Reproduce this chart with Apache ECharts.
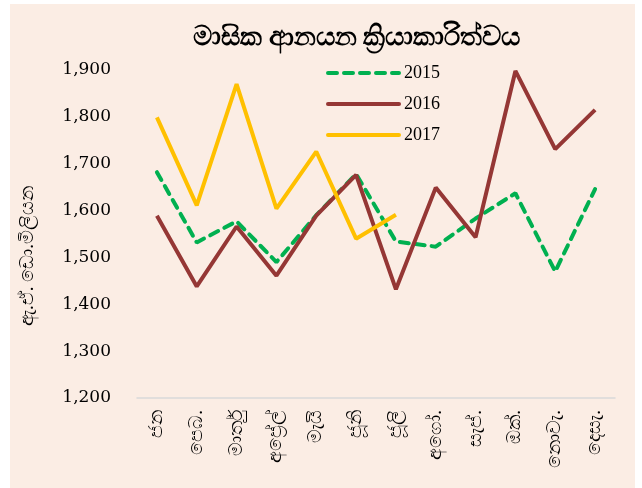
<!DOCTYPE html>
<html>
<head>
<meta charset="utf-8">
<script src="https://cdn.jsdelivr.net/npm/echarts@6/dist/echarts.min.js"></script>
<style>
html, body { margin: 0; padding: 0; background: #fff; }
#bg { position: absolute; left: 10px; top: 4px; width: 625px; height: 484px; background: #FBEDE4; }
#chart { position: absolute; left: 0; top: 0; width: 642px; height: 488px; }
</style>
</head>
<body>
<div id="bg"></div>
<div id="chart"></div>
<script>
// මාස
var months = ['ජන', 'පෙබ.', 'මාර්තු', 'අප්‍රේල්', 'මැයි', 'ජූනි', 'ජූලි', 'අගෝ.', 'සැප්.', 'ඔක්.', 'නොවැ.', 'දෙසැ.'];
var years = ['2015', '2016', '2017'];
var v2015 = [1682, 1532, 1577, 1490, 1590, 1678, 1534, 1523, 1583, 1637, 1470, 1646];
var v2016 = [1589, 1438, 1566, 1461, 1589, 1676, 1432, 1649, 1543, 1898, 1731, 1815];
var v2017 = [1799, 1611, 1870, 1604, 1726, 1540, 1591];

var myChart = echarts.init(document.getElementById('chart'));
var serif = '"Liberation Serif", "DejaVu Serif", serif';

var option = {
	backgroundColor: 'transparent',
	animation: false,
	title: {
		text: 'මාසික ආනයන ක්‍රියාකාරිත්වය',
		left: 188,
		top: 20,
		textStyle: { fontSize: 26.5, fontWeight: 'bold', color: '#000', fontFamily: serif }
	},
	legend: {
		data: years,
		orient: 'vertical',
		left: 321,
		top: 59,
		itemWidth: 71,
		itemHeight: 14,
		itemGap: 13,
		itemStyle: { opacity: 0 },
		lineStyle: { width: 4, cap: 'round' },
		textStyle: { fontSize: 18, color: '#000', fontFamily: serif }
	},
	grid: { left: 137, right: 27, top: 70, bottom: 90 },
	xAxis: {
		type: 'category',
		data: months,
		axisLine: { lineStyle: { color: '#D9D9D9', width: 1.5 } },
		axisTick: { show: false },
		axisLabel: { rotate: 90, fontSize: 19, color: '#000', margin: 12, fontFamily: serif }
	},
	yAxis: {
		type: 'value',
		min: 1200,
		max: 1900,
		interval: 100,
		name: 'ඇ.ඒ. ඩො.මිලියන',
		nameLocation: 'middle',
		nameGap: 99,
		nameTextStyle: { fontSize: 19, color: '#000', fontFamily: serif, padding: [0, 44, 0, 0] },
		splitLine: { show: false },
		axisLine: { show: false },
		axisTick: { show: false },
		axisLabel: {
			fontSize: 17, color: '#000', margin: 26, fontFamily: '"DejaVu Serif", serif',
			formatter: function (v) { return v.toLocaleString('en-US'); }
		}
	},
	series: [
		{ name: '2015', type: 'line', data: v2015, symbol: 'none', color: '#00B050',
		  lineStyle: { width: 4, type: [9, 7], cap: 'round' } },
		{ name: '2016', type: 'line', data: v2016, symbol: 'none', color: '#953735',
		  lineStyle: { width: 4 } },
		{ name: '2017', type: 'line', data: v2017, symbol: 'none', color: '#FFC000',
		  lineStyle: { width: 4 } }
	]
};
myChart.setOption(option);
</script>
</body>
</html>
